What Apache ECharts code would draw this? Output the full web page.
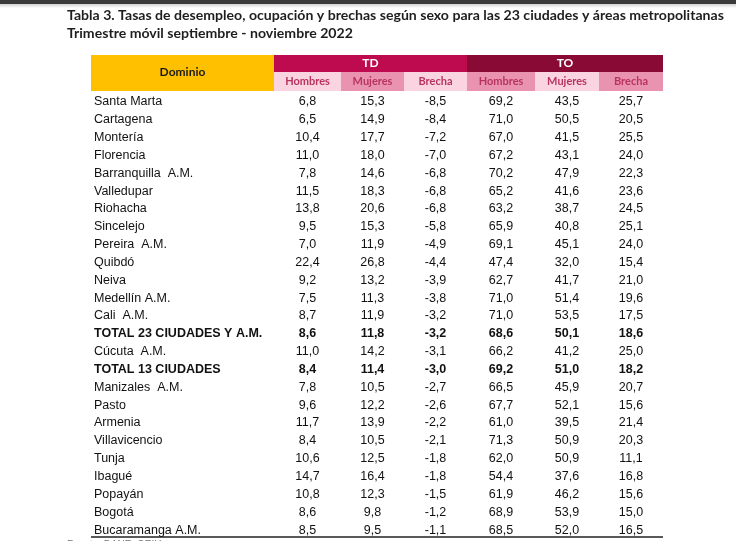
<!DOCTYPE html>
<html>
<head>
<meta charset="utf-8">
<script src="https://cdn.jsdelivr.net/npm/echarts@6/dist/echarts.min.js"></script>
<style>
html,body{margin:0;padding:0;background:#fff;}
#main{width:736px;height:541px;}
</style>
</head>
<body>
<div id="main"></div>
<script>
const dominios = ['Santa Marta','Cartagena','Montería','Florencia','Barranquilla  A.M.','Valledupar','Riohacha','Sincelejo','Pereira  A.M.','Quibdó','Neiva','Medellín A.M.','Cali  A.M.','TOTAL 23 CIUDADES Y A.M.','Cúcuta  A.M.','TOTAL 13 CIUDADES','Manizales  A.M.','Pasto','Armenia','Villavicencio','Tunja','Ibagué','Popayán','Bogotá','Bucaramanga A.M.'];
const tdHombres = [6.8,6.5,10.4,11.0,7.8,11.5,13.8,9.5,7.0,22.4,9.2,7.5,8.7,8.6,11.0,8.4,7.8,9.6,11.7,8.4,10.6,14.7,10.8,8.6,8.5];
const tdMujeres = [15.3,14.9,17.7,18.0,14.6,18.3,20.6,15.3,11.9,26.8,13.2,11.3,11.9,11.8,14.2,11.4,10.5,12.2,13.9,10.5,12.5,16.4,12.3,9.8,9.5];
const tdBrecha  = [-8.5,-8.4,-7.2,-7.0,-6.8,-6.8,-6.8,-5.8,-4.9,-4.4,-3.9,-3.8,-3.2,-3.2,-3.1,-3.0,-2.7,-2.6,-2.2,-2.1,-1.8,-1.8,-1.5,-1.2,-1.1];
const toHombres = [69.2,71.0,67.0,67.2,70.2,65.2,63.2,65.9,69.1,47.4,62.7,71.0,71.0,68.6,66.2,69.2,66.5,67.7,61.0,71.3,62.0,54.4,61.9,68.9,68.5];
const toMujeres = [43.5,50.5,41.5,43.1,47.9,41.6,38.7,40.8,45.1,32.0,41.7,51.4,53.5,50.1,41.2,51.0,45.9,52.1,39.5,50.9,50.9,37.6,46.2,53.9,52.0];
const toBrecha  = [25.7,20.5,25.5,24.0,22.3,23.6,24.5,25.1,24.0,15.4,21.0,19.6,17.5,18.6,25.0,18.2,20.7,15.6,21.4,20.3,11.1,16.8,15.6,15.0,16.5];
const boldRows = ['TOTAL 23 CIUDADES Y A.M.','TOTAL 13 CIUDADES'];
const groupLabels = ['TD','TO'];
const subLabels = ['Hombres','Mujeres','Brecha','Hombres','Mujeres','Brecha'];
const titleLines = ['Tabla 3. Tasas de desempleo, ocupación y brechas según sexo para las 23 ciudades y áreas metropolitanas','Trimestre móvil septiembre - noviembre 2022'];

const series6 = [tdHombres, tdMujeres, tdBrecha, toHombres, toMujeres, toBrecha];
const fmt = v => v.toFixed(1).replace('.', ',');

// layout (pixels)
const L = 91, R = 663, TOP = 55, MID = 72, HB = 91, BOT = 537;
const colEdges = [274, 341, 404, 467, 535, 599, 663]; // absolute x
const xOf = px => px - L;  // axis units = pixels from table left

const chart = echarts.init(document.getElementById('main'), null, {renderer:'canvas'});
const bodyFont = 'Liberation Sans, Arial, sans-serif';
const headFont = 'Lato, Liberation Sans Narrow, sans-serif';

const lightPink = '#fad4e0', midPink = '#e993b0';
const subBg = [lightPink, midPink, lightPink, midPink, lightPink, midPink];

const graphics = [
  {type:'rect', shape:{x:0,y:0,width:736,height:4}, style:{fill:'#3b3b3b'}},
  {type:'rect', shape:{x:0,y:4,width:736,height:4}, style:{fill:new echarts.graphic.LinearGradient(0,0,0,1,[{offset:0,color:'rgba(0,0,0,0.18)'},{offset:1,color:'rgba(0,0,0,0)'}])}},
  {type:'text', x:67, y:15, style:{text:titleLines[0], font:'bold 14.1px '+headFont, fill:'#1e1e1e', verticalAlign:'middle'}},
  {type:'text', x:67, y:33, style:{text:titleLines[1], font:'bold 14.1px '+headFont, fill:'#1e1e1e', verticalAlign:'middle'}},
  {type:'rect', shape:{x:L,y:TOP,width:colEdges[0]-L,height:HB-TOP}, style:{fill:'#ffc000'}},
  {type:'text', x:(L+colEdges[0])/2, y:(TOP+HB)/2 - 1, style:{text:'Dominio', font:'bold 12px '+headFont, fill:'#1a1a1a', align:'center', verticalAlign:'middle'}},
  {type:'rect', shape:{x:colEdges[0],y:TOP,width:colEdges[3]-colEdges[0],height:MID-TOP}, style:{fill:'#be0a4e'}},
  {type:'rect', shape:{x:colEdges[3],y:TOP,width:colEdges[6]-colEdges[3],height:MID-TOP}, style:{fill:'#8a0a36'}},
  {type:'text', x:(colEdges[0]+colEdges[3])/2, y:(TOP+MID)/2, style:{text:groupLabels[0], font:'bold 12px '+headFont, fill:'#fff', align:'center', verticalAlign:'middle'}},
  {type:'text', x:(colEdges[3]+colEdges[6])/2, y:(TOP+MID)/2, style:{text:groupLabels[1], font:'bold 12px '+headFont, fill:'#fff', align:'center', verticalAlign:'middle'}},
  {type:'line', shape:{x1:L,y1:BOT,x2:R,y2:BOT}, style:{stroke:'#222',lineWidth:1.5}},
  {type:'text', x:67, y:540, style:{text:'Fuente: DANE, GEIH.', font:'10px '+bodyFont, fill:'#777'}}
];
subLabels.forEach((s,i)=>{
  graphics.push({type:'rect', shape:{x:colEdges[i],y:MID,width:colEdges[i+1]-colEdges[i],height:HB-MID}, style:{fill:subBg[i]}});
  graphics.push({type:'text', x:(colEdges[i]+colEdges[i+1])/2, y:(MID+HB)/2, style:{text:s, font:'bold 11px '+headFont, fill:'#b8345f', align:'center', verticalAlign:'middle'}});
});

const colCenters = [];
for (let i=0;i<6;i++) colCenters.push(xOf((colEdges[i]+colEdges[i+1])/2));

chart.setOption({
  animation:false,
  grid:{left:L, right:736-R, top:HB, bottom:541-BOT},
  xAxis:{type:'value', min:0, max:R-L, show:false},
  yAxis:{type:'category', data:dominios, inverse:true, show:false},
  graphic:graphics,
  series:[{
    type:'custom',
    coordinateSystem:'cartesian2d',
    data:dominios.map((d,i)=>[0,i]),
    renderItem:function(params, api){
      const i = api.value(1);
      const bold = boldRows.indexOf(dominios[i]) >= 0;
      const font = (bold?'bold ':'') + '12.5px ' + bodyFont;
      const children = [];
      const p0 = api.coord([xOf(94), i]);
      children.push({type:'text', x:p0[0], y:p0[1]+2, style:{text:dominios[i], font:font, fill:'#111', align:'left', verticalAlign:'middle'}});
      series6.forEach((arr,k)=>{
        const p = api.coord([colCenters[k], i]);
        children.push({type:'text', x:p[0], y:p[1]+2, style:{text:fmt(arr[i]), font:font, fill:'#111', align:'center', verticalAlign:'middle'}});
      });
      return {type:'group', children:children};
    }
  }]
});
</script>
</body>
</html>
